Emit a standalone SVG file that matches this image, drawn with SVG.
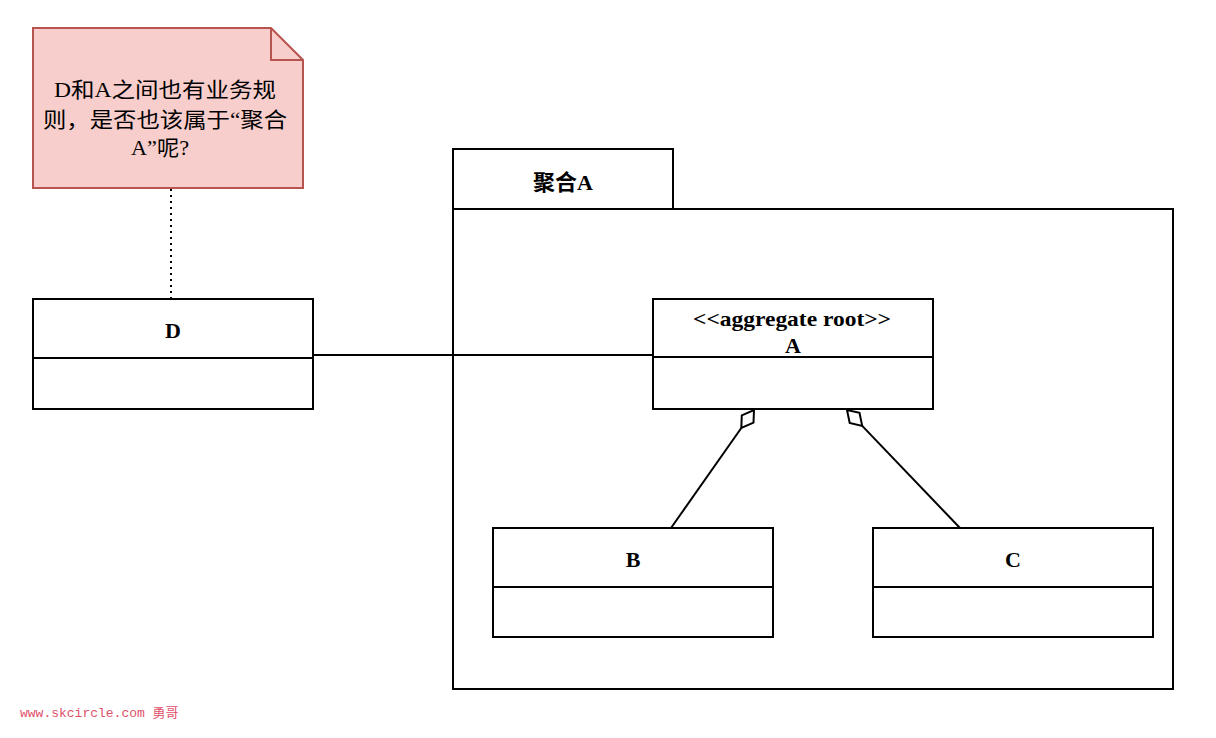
<svg xmlns="http://www.w3.org/2000/svg" width="1216" height="738" viewBox="0 0 1216 738">
<style>
.box{fill:#ffffff;stroke:#000000;stroke-width:2}
.ln{fill:none;stroke:#000000;stroke-width:2}
.lbl{font-family:"Liberation Serif","Noto Sans CJK SC",serif;font-weight:bold;font-size:22px;fill:#000000;text-anchor:middle}
.note{font-family:"Liberation Serif","Noto Sans CJK SC",serif;font-size:21px;fill:#000000;text-anchor:middle}
.wm{font-family:"Liberation Mono","Noto Sans CJK SC",monospace;font-size:13px;fill:#e0506a}
</style>
<rect width="1216" height="738" fill="#ffffff"/>
<g id="package-A">
<rect class="box" x="453" y="149" width="220" height="60"/>
<rect class="box" x="453" y="209" width="720" height="480"/>
<text class="lbl" x="563" y="190">聚合A</text>
</g>
<g id="connectors">
<line class="ln" x1="171" y1="189" x2="171" y2="298" stroke-dasharray="2 4"/>
<line class="ln" x1="313" y1="355" x2="653" y2="355"/>
<line class="ln" x1="671" y1="528" x2="741.3" y2="428"/>
<polygon class="ln" points="754,410 753.5,422.7 741.3,428 741.8,415.3" fill="#ffffff"/>
<line class="ln" x1="960" y1="528" x2="862.2" y2="425.9"/>
<polygon class="ln" points="847,410 859.5,412.9 862.2,425.9 849.7,423" fill="#ffffff"/>
</g>
<g id="note">
<path d="M33 28 H271 L303 60 V188 H33 Z" fill="#f8cecc" stroke="#b85450" stroke-width="2"/>
<path d="M271 28 V60 H303" fill="none" stroke="#b85450" stroke-width="2"/>
<text class="note" x="165" y="97" textLength="222" lengthAdjust="spacingAndGlyphs">D和A之间也有业务规</text>
<text class="note" x="165" y="127" textLength="244" lengthAdjust="spacingAndGlyphs">则，是否也该属于“聚合</text>
<text class="note" x="160" y="155" textLength="58" lengthAdjust="spacingAndGlyphs">A”呢?</text>
</g>
<g id="class-D">
<rect class="box" x="33" y="299" width="280" height="110"/>
<line class="ln" x1="33" y1="358" x2="313" y2="358"/>
<text class="lbl" x="173" y="338">D</text>
</g>
<g id="class-A">
<rect class="box" x="653" y="299" width="280" height="110"/>
<line class="ln" x1="653" y1="357" x2="933" y2="357"/>
<text class="lbl" x="792" y="326" textLength="198" lengthAdjust="spacingAndGlyphs">&lt;&lt;aggregate root&gt;&gt;</text>
<text class="lbl" x="793" y="353">A</text>
</g>
<g id="class-B">
<rect class="box" x="493" y="528" width="280" height="109"/>
<line class="ln" x1="493" y1="587" x2="773" y2="587"/>
<text class="lbl" x="633" y="567">B</text>
</g>
<g id="class-C">
<rect class="box" x="873" y="528" width="280" height="109"/>
<line class="ln" x1="873" y1="587" x2="1153" y2="587"/>
<text class="lbl" x="1013" y="567">C</text>
</g>
<text class="wm" x="20" y="717">www.skcircle.com 勇哥</text>
</svg>
